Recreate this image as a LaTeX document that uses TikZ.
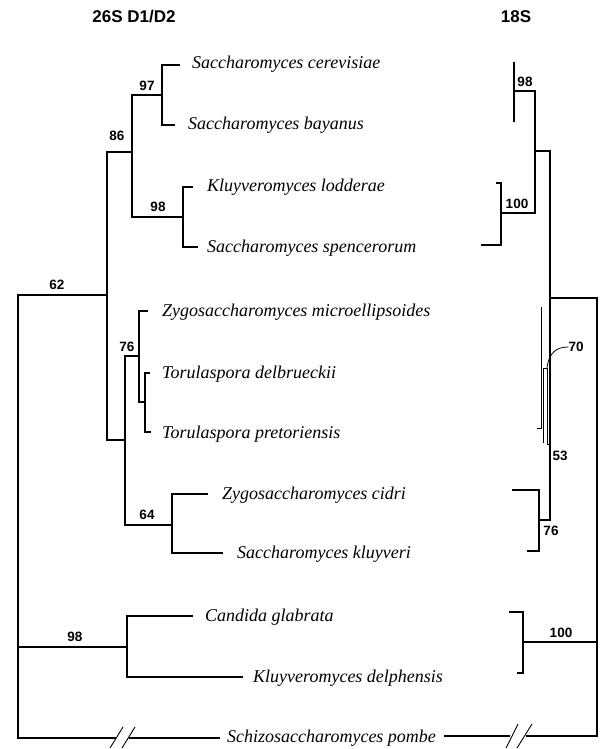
\documentclass[tikz,border=0pt]{standalone}
\usepackage{fontspec}
\setmainfont{Liberation Serif}
\newfontfamily\hv{Liberation Sans}
\tikzset{
  br/.style={line width=1.1pt},
  thick root/.style={line width=1.6pt},
  sp/.style={anchor=west, inner sep=0pt, font=\fontsize{18}{20}\selectfont\itshape, text height=12pt, text depth=4pt},
  bs/.style={inner sep=0pt, font=\hv\bfseries\fontsize{13.5}{14}\selectfont},
  ttl/.style={inner sep=0pt, font=\hv\bfseries\fontsize{17}{19}\selectfont}
}
\begin{document}
\begin{tikzpicture}[x=1pt,y=-1pt]
\useasboundingbox (0,0) rectangle (608,749);
\fill[white] (0,0) rectangle (608,749);
% titles
\node[ttl] (t26) at (134,17) {26S D1/D2};
\node[ttl] (t18) at (516,17) {18S};
% ---------- left tree coordinates ----------
\coordinate (root) at (18,516);
\coordinate (n62) at (107,295);
\coordinate (n86) at (132,152);
\coordinate (n97) at (162,95);
\coordinate (n98) at (183,217);
\coordinate (nlow) at (125,440);
\coordinate (n76) at (139,356);
\coordinate (nT) at (145,402);
\coordinate (n64) at (172,525);
\coordinate (n98b) at (127,647);
\coordinate (tcer) at (180,65);
\coordinate (tbay) at (175,125);
\coordinate (tlod) at (193,187);
\coordinate (tspe) at (198,247);
\coordinate (tzmi) at (148,311);
\coordinate (ttde) at (150,373);
\coordinate (ttpr) at (151,432);
\coordinate (tzci) at (208,494);
\coordinate (tskl) at (223,553);
\coordinate (tcgl) at (193,616);
\coordinate (tkde) at (243,677);
\coordinate (bL1) at (116,738);
\coordinate (bL2) at (129,738);
\coordinate (bL3) at (220,738);
% left tree branches
\draw[br] (root) |- (n62);
\draw[br] (root) |- (n98b);
\draw[br] (root) |- (bL1);
\draw[br] (bL2) -- (bL3);
\draw[br] (n62) |- (n86);
\draw[br] (n62) |- (nlow);
\draw[br] (n86) |- (n97);
\draw[br] (n86) |- (n98);
\draw[br] (n97) |- (tcer);
\draw[br] (n97) |- (tbay);
\draw[br] (n98) |- (tlod);
\draw[br] (n98) |- (tspe);
\draw[br] (nlow) |- (n76);
\draw[br] (nlow) |- (n64);
\draw[br] (n76) |- (tzmi);
\draw[br] (n76) |- (nT);
\draw[br] (nT) |- (ttde);
\draw[br] (nT) |- (ttpr);
\draw[br] (n64) |- (tzci);
\draw[br] (n64) |- (tskl);
\draw[br] (n98b) |- (tcgl);
\draw[br] (n98b) |- (tkde);
% left break marks
\coordinate (sl1a) at (110,748); \coordinate (sl1b) at (123,727);
\coordinate (sl2a) at (122,748); \coordinate (sl2b) at (135,727);
\draw[line width=0.9pt] (sl1a) -- (sl1b);
\draw[line width=0.9pt] (sl2a) -- (sl2b);
% left labels
\node[bs] (b62) at (57,285) {62};
\node[bs] (b86) at (117,136) {86};
\node[bs] (b97) at (147,86) {97};
\node[bs] (b98) at (158,207) {98};
\node[bs] (b76) at (127,347) {76};
\node[bs] (b64) at (147,515) {64};
\node[bs] (b98b) at (75,637) {98};
% species names
\node[sp] (scer) at (192,65) {Saccharomyces cerevisiae};
\node[sp] (sbay) at (188,125) {Saccharomyces bayanus};
\node[sp] (klod) at (207,187) {Kluyveromyces lodderae};
\node[sp] (sspe) at (207,248) {Saccharomyces spencerorum};
\node[sp] (zmic) at (162,312) {Zygosaccharomyces microellipsoides};
\node[sp] (tdel) at (162,374) {Torulaspora delbrueckii};
\node[sp] (tpre) at (162,434) {Torulaspora pretoriensis};
\node[sp] (zcid) at (222,495) {Zygosaccharomyces cidri};
\node[sp] (sklu) at (237,554) {Saccharomyces kluyveri};
\node[sp] (cgla) at (205,617) {Candida glabrata};
\node[sp] (kdel) at (253,678) {Kluyveromyces delphensis};
\node[sp] (spom) at (227,738) {Schizosaccharomyces pombe};
% ---------- right tree (18S) ----------
\coordinate (Rroot) at (597,516);
\coordinate (s1) at (550,298);
\coordinate (sS) at (535,151);
\coordinate (s98) at (514,91);
\coordinate (s98t) at (514,62);
\coordinate (s98b) at (514,122);
\coordinate (s100) at (501,213);
\coordinate (u1) at (496,183);
\coordinate (u2) at (481,245);
\coordinate (s76) at (539,520);
\coordinate (u3) at (512,490);
\coordinate (u4) at (527,551);
\coordinate (s100b) at (523,642);
\coordinate (u5) at (509,612);
\coordinate (u6) at (517,673);
\coordinate (bR1) at (526,736);
\coordinate (bR2) at (510,736);
\coordinate (bR3) at (444,736);
\coordinate (s53) at (550,444);
\coordinate (q1) at (547,444);
\coordinate (q2) at (547,368);
\coordinate (q3) at (543,368);
\coordinate (q4) at (543,443);
\coordinate (p1) at (541,307);
\coordinate (p2) at (541,428);
\coordinate (p3) at (537,428);
\draw[thick root] (Rroot) |- (s1);
\draw[br] (Rroot) |- (s100b);
\draw[thick root] (Rroot) |- (bR1);
\draw[br] (bR2) -- (bR3);
\draw[br] (s1) |- (sS);
\draw[br] (s1) |- (s76);
\draw[br] (sS) |- (s98);
\draw[br] (sS) |- (s100);
\draw[br] (s98t) -- (s98b);
\draw[br] (s100) |- (u1);
\draw[br] (s100) |- (u2);
\draw[br] (s76) |- (u3);
\draw[br] (s76) |- (u4);
\draw[br] (s100b) |- (u5);
\draw[br] (s100b) |- (u6);
\draw[line width=0.9pt] (s53) -- (q1) -- (q2) -- (q3) -- (q4);
\draw[line width=0.9pt] (p1) -- (p2) -- (p3);
% right break marks
\coordinate (sr1a) at (506,748); \coordinate (sr1b) at (518,724);
\coordinate (sr2a) at (517,748); \coordinate (sr2b) at (532,724);
\draw[line width=0.9pt] (sr1a) -- (sr1b);
\draw[line width=0.9pt] (sr2a) -- (sr2b);
% right labels
\node[bs] (r98) at (525,82) {98};
\node[bs] (r100) at (517,204) {100};
\node[bs] (r70) at (576,347) {70};
\node[bs] (r53) at (560,456) {53};
\node[bs] (r76) at (551,531) {76};
\node[bs] (r100b) at (561,633) {100};
\draw[line width=0.8pt] (r70.west) .. controls (557,347) and (549,352) .. (q2);
\end{tikzpicture}
\end{document}
